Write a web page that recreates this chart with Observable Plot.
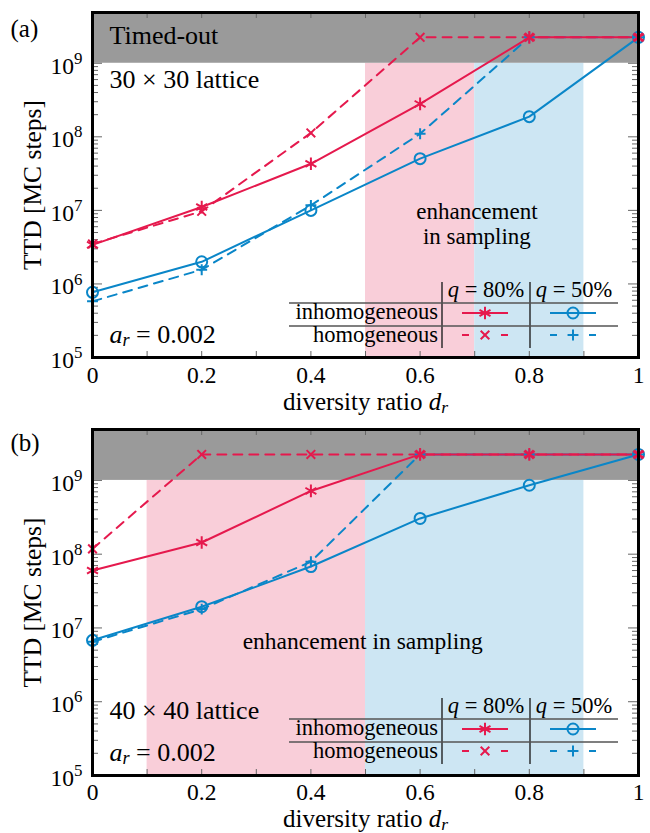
<!DOCTYPE html>
<html><head><meta charset="utf-8">
<script src="https://cdn.jsdelivr.net/npm/d3@7"></script>
<script src="https://cdn.jsdelivr.net/npm/@observablehq/plot@0.6"></script>
<style>
html,body{margin:0;padding:0;background:#fff;}
#chart{width:650px;}
#chart svg{display:block;}
</style></head><body><div id="chart"></div>
<script>
// ---------- data ----------
const dr = [0, 0.2, 0.4, 0.6, 0.8, 1];
const TIMEOUT = 2.25e9;
const T = TIMEOUT;
const seriesKeys = ["inh50", "hom50", "inh80", "hom80"];

// panel (a): 30 x 30 lattice
const a_inh80 = [3.4e6, 1.11e7, 4.3e7, 2.8e8, T, T];
const a_hom80 = [3.5e6, 9.7e6, 1.13e8, T, T, T];
const a_inh50 = [7.7e5, 2.0e6, 1.0e7, 5.05e7, 1.88e8, T];
const a_hom50 = [5.8e5, 1.56e6, 1.17e7, 1.1e8, T, T];
// panel (b): 40 x 40 lattice
const b_inh80 = [6.0e7, 1.44e8, 7.2e8, T, T, T];
const b_hom80 = [1.18e8, T, T, T, T, T];
const b_inh50 = [6.8e6, 1.94e7, 6.8e7, 3.05e8, 8.6e8, T];
const b_hom50 = [6.5e6, 1.8e7, 7.9e7, T, T, T];

const bandsA = [[0.5, 0.7], [0.7, 0.9]];
const bandsB = [[0.1, 0.5], [0.5, 0.9]];
const timeoutFloor = 1e9;

const xTicks = [0, 0.2, 0.4, 0.6, 0.8, 1];
const xMinor = [0.1, 0.2, 0.3, 0.4, 0.5, 0.6, 0.7, 0.8, 0.9];
const yMajor = [1e5, 1e6, 1e7, 1e8, 1e9];
const yMinor = [5, 6, 7, 8].flatMap(k => [2, 3, 4, 5, 6, 7, 8, 9].map(m => m * 10 ** k));

const legendRowLabels = ["inhomogeneous", "homogeneous"];
const legendColLabels = ["*q* = 80%", "*q* = 50%"];

// ---------- styles ----------
const RED = "#e5194d", BLUE = "#0a86c8";
const PINK = "#f9ced9", LBLUE = "#cde6f3", GRAY = "#9a9a9a", TICK = "#666";
const FONT = "'Liberation Serif', 'Times New Roman', serif";
const DASH = "9,7";
const style = {
  inh80: {stroke: RED, dash: null, symbol: "asterisk", r: 6},
  hom80: {stroke: RED, dash: DASH, symbol: "times", r: 4},
  inh50: {stroke: BLUE, dash: null, symbol: "circle", r: 5.5},
  hom50: {stroke: BLUE, dash: DASH, symbol: "plus", r: 3.6}
};
const YMIN = 1e5, YMAX = 10 ** 9.69;

function richify(svg) {
  d3.select(svg).selectAll("text").each(function () {
    if (this.childElementCount) return;
    const s = this.textContent;
    if (!/[*_^]/.test(s)) return;
    const fs = parseFloat(getComputedStyle(this).fontSize) || 23;
    const parts = s.split(/(\*[^*]+\*|_\{[^}]+\}|\^\{[^}]+\})/).filter(p => p);
    this.textContent = "";
    let shift = 0;
    for (const p of parts) {
      const t = d3.select(this).append("tspan");
      let target = 0, txt = p;
      if (p[0] === "*") { txt = p.slice(1, -1); t.attr("font-style", "italic"); }
      else if (p[0] === "_") { txt = p.slice(2, -1); target = 0.13 * fs; t.attr("font-size", 0.7 * fs).attr("font-style", "italic"); }
      else if (p[0] === "^") { txt = p.slice(2, -1); target = -0.42 * fs; t.attr("font-size", 0.72 * fs); }
      if (target !== shift) { t.attr("dy", target - shift); shift = target; }
      t.text(txt);
    }
  });
}

function drawSymbol(g, key, cx, cy) {
  const st = style[key];
  const type = {asterisk: d3.symbolAsterisk, times: d3.symbolTimes, circle: d3.symbolCircle, plus: d3.symbolPlus}[st.symbol];
  g.append("path")
    .attr("d", d3.symbol(type, Math.PI * st.r * st.r)())
    .attr("transform", `translate(${cx},${cy})`)
    .attr("fill", "none").attr("stroke", st.stroke).attr("stroke-width", 2);
}

function drawLegend(svg, ox, oy) {
  const g = d3.select(svg).append("g")
    .attr("transform", `translate(${ox},${oy})`)
    .attr("font-family", FONT).attr("font-size", 22.5).attr("fill", "#000");
  const c1 = 153, c2 = 241, wAll = 329, h1 = 21, h2 = 44, hAll = 66;
  g.append("line").attr("x1", c1).attr("x2", c1).attr("y1", 0).attr("y2", hAll).attr("stroke", "#222").attr("stroke-width", 1.4);
  g.append("line").attr("x1", c2).attr("x2", c2).attr("y1", 0).attr("y2", hAll).attr("stroke", "#222").attr("stroke-width", 1.4);
  g.append("line").attr("x1", 0).attr("x2", wAll).attr("y1", h1).attr("y2", h1).attr("stroke", "#555").attr("stroke-width", 1.5);
  g.append("line").attr("x1", 0).attr("x2", wAll).attr("y1", h2).attr("y2", h2).attr("stroke", "#555").attr("stroke-width", 1.5);
  const colCenters = [197, 285];
  legendColLabels.forEach((lab, j) => g.append("text").attr("x", colCenters[j]).attr("y", 15).attr("text-anchor", "middle").text(lab));
  legendRowLabels.forEach((lab, i) => g.append("text").attr("x", 149).attr("y", [37, 60][i]).attr("text-anchor", "end").text(lab));
  const keys = [["inh80", "inh50"], ["hom80", "hom50"]];
  const rowY = [31, 53];
  keys.forEach((row, i) => row.forEach((key, j) => {
    const cx = colCenters[j] - 1, cy = rowY[i], st = style[key];
    const ln = g.append("line").attr("x1", cx - 23).attr("x2", cx + 23).attr("y1", cy).attr("y2", cy)
      .attr("stroke", st.stroke).attr("stroke-width", 2);
    if (st.dash) ln.attr("stroke-dasharray", "7,32,7");
    drawSymbol(g, key, cx, cy);
  }));
  richify(g.node());
}

function panel(cfg) {
  const W = 650, H = cfg.height, ML = 92, MR = 12, MT = cfg.mt, MB = H - cfg.frameBottom;
  const FW = W - ML - MR, FH = H - MT - MB;
  const vals = {inh80: cfg.inh80, hom80: cfg.hom80, inh50: cfg.inh50, hom50: cfg.hom50};
  const seriesMarks = [];
  for (const key of seriesKeys) {
    const rows = dr.map((x, i) => ({x, y: vals[key][i]}));
    const st = style[key];
    seriesMarks.push(Plot.line(rows, {x: "x", y: "y", stroke: st.stroke, strokeWidth: 2, strokeDasharray: st.dash ?? undefined}));
  }
  for (const key of seriesKeys) {
    const rows = dr.map((x, i) => ({x, y: vals[key][i]}));
    const st = style[key];
    seriesMarks.push(Plot.dot(rows, {x: "x", y: "y", symbol: st.symbol, r: st.r, stroke: st.stroke, strokeWidth: 2, fill: "none"}));
  }
  const svg = Plot.plot({
    width: W, height: H,
    marginLeft: ML, marginRight: MR, marginTop: MT, marginBottom: MB,
    style: {fontFamily: FONT, fontSize: "23.5px", color: "#000", background: "white", overflow: "visible"},
    x: {domain: [0, 1]},
    y: {type: "log", domain: [YMIN, YMAX]},
    marks: [
      Plot.rect([cfg.bands[0]], {x1: d => d[0], x2: d => d[1], y1: YMIN, y2: timeoutFloor, fill: PINK}),
      Plot.rect([cfg.bands[1]], {x1: d => d[0], x2: d => d[1], y1: YMIN, y2: timeoutFloor, fill: LBLUE}),
      Plot.rect([timeoutFloor], {x1: 0, x2: 1, y1: d => d, y2: YMAX, fill: GRAY}),
      Plot.tickY(yMajor, {y: d => d, insetRight: FW - 10, stroke: TICK}),
      Plot.tickY(yMajor, {y: d => d, insetLeft: FW - 10, stroke: TICK}),
      Plot.tickY(yMinor, {y: d => d, insetRight: FW - 6, stroke: TICK}),
      Plot.tickY(yMinor, {y: d => d, insetLeft: FW - 6, stroke: TICK}),
      Plot.tickX(xMinor, {x: d => d, insetBottom: FH - 6, stroke: TICK}),
      Plot.tickX(xMinor, {x: d => d, insetTop: FH - 6, stroke: TICK}),
      Plot.axisX({ticks: xTicks, tickSize: 0, tickPadding: cfg.xPad, tickFormat: d => String(d), label: null, fontFamily: FONT}),
      Plot.axisY({ticks: yMajor, tickSize: 0, tickPadding: 10, dy: 3, tickFormat: d => `10^{${Math.round(Math.log10(d))}}`, label: null, fontFamily: FONT}),
      ...seriesMarks,
      Plot.frame({stroke: "black", strokeWidth: 3}),
      Plot.text([cfg.tag], {frameAnchor: "top-left", dx: -82, dy: cfg.tagDy, lineAnchor: "bottom", textAnchor: "start", fontSize: 25, fontFamily: FONT}),
      Plot.text(["TTD [MC steps]"], {frameAnchor: "left", dx: -60, rotate: -90, textAnchor: "middle", lineAnchor: "middle", fontSize: 25.5, fontFamily: FONT}),
      Plot.text(["diversity ratio *d*_{r}"], {frameAnchor: "bottom", dy: cfg.xlabDy, lineAnchor: "bottom", textAnchor: "middle", fontSize: 25, fontFamily: FONT}),
      ...cfg.notes.map(n => Plot.text([n.text], {...n.opts, lineAnchor: "bottom", fontSize: n.fs ?? 26, fontFamily: FONT}))
    ]
  });
  const wrap = document.createElement("div");
  wrap.appendChild(svg);
  document.getElementById("chart").appendChild(wrap);
  richify(svg);
  drawLegend(svg, 289, 282);
}

panel({
  height: 416, mt: 12, frameBottom: 357, tag: "(a)", tagDy: 24, xlabDy: 52, xPad: 9,
  bands: bandsA, inh80: a_inh80, hom80: a_hom80, inh50: a_inh50, hom50: a_hom50,
  notes: [
    {text: "Timed-out", opts: {frameAnchor: "top-left", dx: 17, dy: 31, textAnchor: "start"}},
    {text: "30 × 30 lattice", opts: {frameAnchor: "top-left", dx: 17, dy: 75, textAnchor: "start"}},
    {text: "*a*_{r} = 0.002", opts: {frameAnchor: "bottom-left", dx: 17, dy: -15, textAnchor: "start"}},
    {text: "enhancement", fs: 23, opts: {x: 0.704, y: 7.6e6, textAnchor: "middle"}},
    {text: "in sampling", fs: 23, opts: {x: 0.704, y: 3.5e6, textAnchor: "middle"}}
  ]
});
panel({
  height: 417, mt: 13, frameBottom: 359, tag: "(b)", tagDy: 21, xlabDy: 51, xPad: 8,
  bands: bandsB, inh80: b_inh80, hom80: b_hom80, inh50: b_inh50, hom50: b_hom50,
  notes: [
    {text: "40 × 40 lattice", opts: {frameAnchor: "bottom-left", dx: 17, dy: -57, textAnchor: "start"}},
    {text: "*a*_{r} = 0.002", opts: {frameAnchor: "bottom-left", dx: 17, dy: -15, textAnchor: "start"}},
    {text: "enhancement in sampling", fs: 23.5, opts: {x: 0.495, y: 5.2e6, textAnchor: "middle"}}
  ]
});
</script></body></html>
